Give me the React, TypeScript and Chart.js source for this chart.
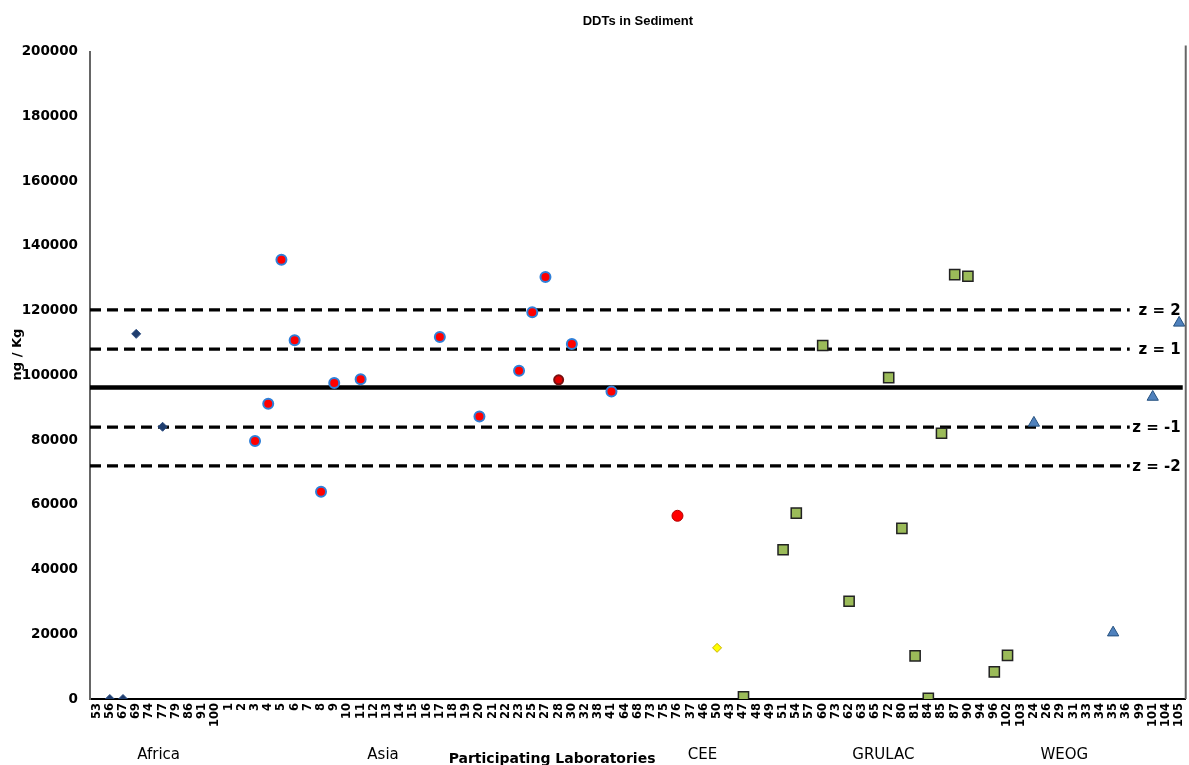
import { useEffect, useRef } from 'react';
import { Chart, registerables } from 'chart.js';

Chart.register(...registerables);

// ---------- data ----------
const africaLabs = ['53', '56', '67', '69', '74', '77', '79', '86', '91', '100'];
const africaValues = [null, 0, 0, 112800, null, 84100, null, null, null, null];

const asiaLabs = ['1', '2', '3', '4', '5', '6', '7', '8', '9', '10', '11', '12', '13', '14', '15', '16', '17', '18', '19', '20', '21', '22', '23', '25', '27', '28', '30', '32', '38', '41'];
const asiaValues = [null, null, 79700, 91200, 135700, 110800, null, 64000, 97600, null, 98800, null, null, null, null, null, 111800, null, null, 87300, null, null, 101400, 119500, 130400, 98600, 109700, null, null, 95000];

const ceeLabs = ['64', '68', '73', '75', '76', '37', '46', '50', '43'];
const ceeValues = [null, null, null, null, 56600, null, null, 15800, null];

const grulacLabs = ['47', '48', '49', '51', '54', '57', '60', '73', '62', '63', '65', '72', '80', '81', '84', '85', '87', '90', '94', '96', '102', '103'];
const grulacValues = [700, null, null, 46100, 57400, null, 109200, null, 30200, null, null, 99300, 52700, 13300, 200, 82100, 131100, 130600, null, 8400, 13500, null];

const weogLabs = ['24', '26', '29', '31', '33', '34', '35', '36', '99', '101', '104', '105'];
const weogValues = [85300, null, null, null, null, null, 20500, null, null, 93300, null, 116200];

const meanValue = 96200;
const zLevels = ['z = 2', 'z = 1', 'z = -1', 'z = -2'];
const zValues = [120200, 108100, 84000, 72000];

const groupNames = ['Africa', 'Asia', 'CEE', 'GRULAC', 'WEOG'];
const groupAnchorIndex = [4.7, 21.7, 45.9, 59.6, 73.3];
const axisTitle = 'Participating Laboratories';
const axisTitleAnchorIndex = 34.5;
const yAxisTitle = 'ng / Kg';

const yTicksMax = 200000;
const yTickStep = 20000;

// ---------- helpers ----------
const labels = [...africaLabs, ...asiaLabs, ...ceeLabs, ...grulacLabs, ...weogLabs];

function spread(values: (number | null)[], offset: number) {
  const arr: (number | null)[] = new Array(labels.length).fill(null);
  values.forEach((v, i) => {
    arr[offset + i] = v;
  });
  return arr;
}

const offAfrica = 0;
const offAsia = africaLabs.length;
const offCee = offAsia + asiaLabs.length;
const offGrulac = offCee + ceeLabs.length;
const offWeog = offGrulac + grulacLabs.length;

const FONT = '"DejaVu Sans", Verdana, sans-serif';
const TITLE_FONT = '"Liberation Sans", Arial, sans-serif';

const overlayPlugin = {
  id: 'overlay',
  beforeDatasetsDraw(chart: any) {
    const { ctx, chartArea, scales } = chart;
    const y = scales.y;
    ctx.save();
    ctx.strokeStyle = '#000';
    ctx.lineWidth = 4.5;
    ctx.setLineDash([]);
    const ym = y.getPixelForValue(meanValue);
    ctx.beginPath();
    ctx.moveTo(chartArea.left, ym);
    ctx.lineTo(chartArea.right - 3, ym);
    ctx.stroke();
    ctx.lineWidth = 3.3;
    ctx.setLineDash([11, 6]);
    zValues.forEach((v) => {
      const yy = y.getPixelForValue(v);
      ctx.beginPath();
      ctx.moveTo(chartArea.left, yy);
      ctx.lineTo(chartArea.right - 56, yy);
      ctx.stroke();
    });
    ctx.setLineDash([]);
    ctx.fillStyle = '#000';
    ctx.font = `bold 15px ${FONT}`;
    ctx.textAlign = 'right';
    ctx.textBaseline = 'middle';
    zValues.forEach((v, i) => {
      const yy = y.getPixelForValue(v);
      ctx.fillText(zLevels[i], chartArea.right - 5, yy + 1);
    });
    ctx.restore();
  },
  afterDraw(chart: any) {
    const { ctx, chartArea, scales } = chart;
    const x = scales.x;
    ctx.save();
    ctx.strokeStyle = '#666';
    ctx.lineWidth = 2;
    ctx.beginPath();
    ctx.moveTo(chartArea.right, chartArea.top - 6);
    ctx.lineTo(chartArea.right, chartArea.bottom);
    ctx.stroke();
    ctx.fillStyle = '#000';
    ctx.textAlign = 'center';
    ctx.textBaseline = 'middle';
    ctx.font = `15px ${FONT}`;
    groupNames.forEach((g, i) => {
      ctx.fillText(g, x.getPixelForValue(groupAnchorIndex[i]), chartArea.bottom + 56);
    });
    ctx.font = `bold 14px ${FONT}`;
    ctx.fillText(axisTitle, x.getPixelForValue(axisTitleAnchorIndex), chartArea.bottom + 60);
    ctx.save();
    ctx.translate(18, chartArea.top + (chartArea.bottom - chartArea.top) * 0.468);
    ctx.rotate(-Math.PI / 2);
    ctx.font = `bold 13px ${FONT}`;
    ctx.fillText(yAxisTitle, 0, 0);
    ctx.restore();
    ctx.restore();
  },
};

export default function App() {
  const ref = useRef<HTMLCanvasElement | null>(null);

  useEffect(() => {
    if (!ref.current) return;
    const isLab = (ctx: any, lab: string) => labels[ctx.dataIndex] === lab;
    const chart = new Chart(ref.current, {
      type: 'line',
      data: {
        labels,
        datasets: [
          {
            label: 'Africa',
            data: spread(africaValues, offAfrica),
            showLine: false,
            pointStyle: 'rectRot',
            pointRadius: 4.5,
            pointBackgroundColor: '#1F3D6E',
            pointBorderColor: '#2B4C80',
            pointBorderWidth: 1,
          },
          {
            label: 'Asia',
            data: spread(asiaValues, offAsia),
            showLine: false,
            pointStyle: 'circle',
            pointRadius: (c: any) => (isLab(c, '28') ? 4.5 : 5),
            pointBackgroundColor: (c: any) => (isLab(c, '28') ? '#E00000' : '#FF0000'),
            pointBorderColor: (c: any) => (isLab(c, '28') ? '#7A1010' : '#2F7FD8'),
            pointBorderWidth: 2,
          },
          {
            label: 'CEE',
            data: spread(ceeValues, offCee),
            showLine: false,
            pointStyle: (c: any) => (isLab(c, '50') ? 'rectRot' : 'circle'),
            pointRadius: (c: any) => (isLab(c, '50') ? 4.5 : 5.5),
            pointBackgroundColor: (c: any) => (isLab(c, '50') ? '#FFFF00' : '#FF0000'),
            pointBorderColor: (c: any) => (isLab(c, '50') ? '#C8B000' : '#B00000'),
            pointBorderWidth: 1,
          },
          {
            label: 'GRULAC',
            data: spread(grulacValues, offGrulac),
            showLine: false,
            pointStyle: 'rect',
            pointRadius: 7.2,
            pointBackgroundColor: '#9BBB59',
            pointBorderColor: '#222',
            pointBorderWidth: 1.5,
          },
          {
            label: 'WEOG',
            data: spread(weogValues, offWeog),
            showLine: false,
            pointStyle: 'triangle',
            pointRadius: 6.5,
            pointBackgroundColor: '#4F81BD',
            pointBorderColor: '#24507F',
            pointBorderWidth: 1,
          },
        ],
      },
      options: {
        animation: false,
        responsive: true,
        maintainAspectRatio: false,
        layout: { padding: { left: 0, right: 4, top: 0, bottom: 0 } },
        plugins: {
          legend: { display: false },
          tooltip: { enabled: false },
          title: {
            display: true,
            text: 'DDTs in Sediment',
            fullSize: false,
            color: '#000',
            font: { family: TITLE_FONT, size: 13, weight: 'bold' },
            padding: { top: 14, bottom: 22 },
          },
        },
        scales: {
          x: {
            type: 'category',
            offset: true,
            grid: { display: false, drawTicks: false },
            border: { display: true, color: '#000', width: 2 },
            ticks: {
              autoSkip: false,
              minRotation: 90,
              maxRotation: 90,
              padding: 4,
              color: '#000',
              font: { family: FONT, size: 11.5, weight: 'bold' },
            },
            afterFit: (s: any) => {
              s.height = 66;
            },
          },
          y: {
            min: 0,
            max: yTicksMax,
            grid: { display: false, drawTicks: false },
            border: { display: true, color: '#666', width: 2 },
            ticks: {
              stepSize: yTickStep,
              padding: 12,
              color: '#000',
              font: { family: FONT, size: 13.5, weight: 'bold' },
              callback: (v: any) => String(v),
            },
            afterFit: (s: any) => {
              s.width = 90;
            },
          },
        },
      },
      plugins: [overlayPlugin],
    });
    return () => chart.destroy();
  }, []);

  return (
    <div style={{ position: 'absolute', left: 0, top: 0, width: 1189, height: 765, overflow: 'hidden', background: '#fff' }}>
      <div style={{ position: 'relative', width: 1197, height: 765 }}>
        <canvas ref={ref} />
      </div>
    </div>
  );
}
